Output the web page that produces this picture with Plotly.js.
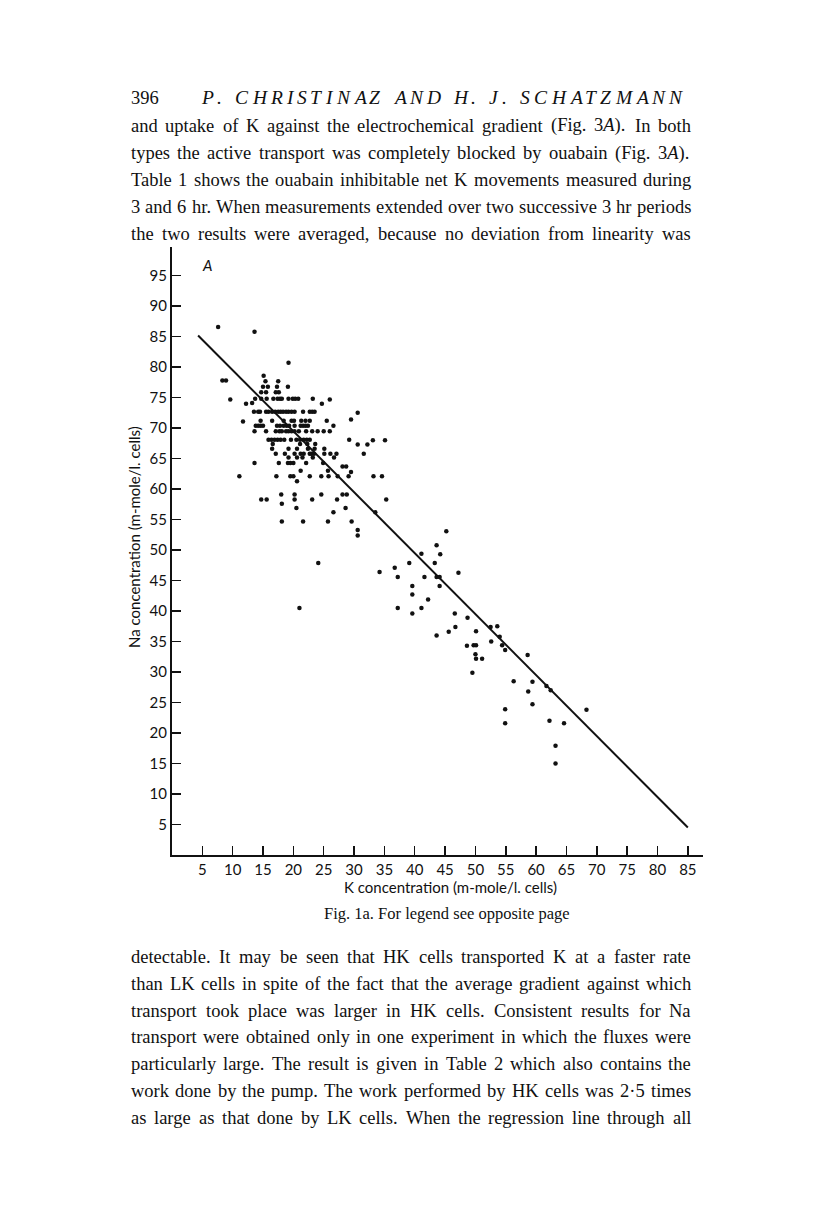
<!DOCTYPE html>
<html><head><meta charset="utf-8">
<script src="https://cdn.plot.ly/plotly-3.0.1.min.js"></script>
<style>body{margin:0;background:#fff}</style>
</head><body><div id="chart" style="width:816px;height:1221px"></div>
<script>
// ---- data ----
const kUpper = [
 7.6, 13.6, 19.2, 8.3, 8.9, 9.6, 11.7, 12.2, 15.1, 15.4, 17.5,
 15.0, 15.8, 17.3, 19.1,
 14.7, 15.5, 17.1, 17.6,
 13.2, 13.7, 14.7, 15.6, 16.7, 17.4, 17.8, 18.1, 19.2, 19.9, 20.3, 20.8, 23.2, 24.7, 26.0,
 30.6, 29.5,
 13.5, 14.2, 14.5, 15.5, 15.9, 16.5, 17.0, 17.5, 17.9, 18.3, 18.8, 19.2, 19.7, 20.2, 21.6, 22.7, 23.1, 23.5,
 14.6, 16.5, 18.4, 19.7, 20.1, 21.3, 22.0, 22.7, 25.5,
 13.8, 14.2, 14.6, 15.0, 17.3, 17.8, 18.4, 18.9, 19.3, 20.2, 21.2, 21.6, 22.0, 22.4, 26.6,
 13.6, 15.5, 17.1, 17.7, 18.1, 18.8, 19.2, 19.7, 20.2, 20.9, 22.1, 23.1, 24.0, 25.0, 26.0,
 15.9, 16.4, 16.9, 17.4, 17.9, 18.5, 19.6, 20.5, 21.1, 21.7, 22.2, 22.7, 29.2, 33.1, 35.1,
 16.6, 21.1, 22.3, 23.6, 30.6, 32.2,
 16.5, 19.2, 20.6, 22.4, 23.5, 25.1,
 17.1, 18.6, 20.2, 21.2, 21.7, 22.7, 23.0, 23.4, 25.1, 26.1, 27.1, 31.6,
 19.2, 20.6, 21.5, 23.2, 26.7,
 13.6, 17.6, 19.1, 19.5, 20.0, 22.1, 24.9,
 28.1, 28.7, 21.2, 25.7, 29.5,
 11.1, 17.2, 19.5, 20.0, 22.7, 24.6, 25.8, 27.3, 29.1, 33.2, 34.6,
 20.6,
 18.0, 20.2, 24.6, 28.1, 28.8,
 14.7, 15.6, 20.2, 23.1, 27.2, 35.3,
 18.1, 20.5, 28.6, 26.6, 33.5,
 18.1, 21.6, 25.7, 29.6,
 30.6, 30.6, 24.1, 21.0
];
const naUpper = [
 86.6, 85.8, 80.7, 77.8, 77.8, 74.7, 71.1, 74.0, 78.6, 77.7, 77.7,
 76.8, 76.8, 76.8, 76.8,
 75.9, 75.9, 75.9, 75.9,
 74.1, 74.8, 74.8, 74.8, 74.8, 74.8, 74.8, 74.8, 74.8, 74.8, 74.8, 74.8, 74.8, 74.0, 74.7,
 72.5, 71.4,
 72.7, 72.7, 72.7, 72.7, 72.7, 72.7, 72.7, 72.7, 72.7, 72.7, 72.7, 72.7, 72.7, 72.7, 72.7, 72.7, 72.7, 72.7,
 71.2, 71.2, 71.2, 71.2, 71.2, 71.2, 71.2, 71.2, 71.2,
 70.4, 70.4, 70.4, 70.4, 70.4, 70.4, 70.4, 70.4, 70.4, 70.4, 70.4, 70.4, 70.4, 70.4, 70.4,
 69.5, 69.5, 69.5, 69.5, 69.5, 69.5, 69.5, 69.5, 69.5, 69.5, 69.5, 69.5, 69.5, 69.5, 69.5,
 68.1, 68.1, 68.1, 68.1, 68.1, 68.1, 68.1, 68.1, 68.1, 68.1, 68.1, 68.1, 68.1, 68.0, 68.0,
 67.4, 67.4, 67.4, 67.4, 67.3, 67.3,
 66.6, 66.6, 66.6, 66.6, 66.6, 66.6,
 65.8, 65.8, 65.8, 65.8, 65.8, 65.8, 65.8, 65.8, 65.8, 65.8, 65.8, 65.8,
 65.2, 65.2, 65.2, 65.2, 65.2,
 64.3, 64.3, 64.3, 64.3, 64.3, 64.3, 64.3,
 63.7, 63.7, 63.0, 63.0, 62.8,
 62.1, 62.1, 62.1, 62.1, 62.1, 62.1, 62.1, 62.1, 62.1, 62.1, 62.1,
 61.3,
 59.1, 59.1, 59.1, 59.1, 59.1,
 58.3, 58.3, 58.3, 58.3, 58.3, 58.3,
 57.6, 56.9, 56.9, 56.2, 56.2,
 54.7, 54.7, 54.7, 54.7,
 53.3, 52.4, 47.9, 40.5
];
const kLower = [45.2,43.6,41.1,44.2,39.1,43.3,36.7,34.2,47.2,37.2,41.6,43.6,44.1,39.6,44.1,39.6,42.2,37.2,41.1,39.6,46.6,48.7,43.6,46.7,45.6,50.1,52.5,53.6,54.0,52.6,48.6,49.7,50.1,54.4,54.9,50.0,50.1,51.1,49.5,58.6,56.3,59.4,61.7,62.4,58.7,59.4,68.3,54.9,54.9,62.2,64.6,63.2,63.2];
const naLower = [53.1,50.8,49.4,49.3,47.9,47.9,47.1,46.4,46.3,45.6,45.6,45.6,45.6,44.1,44.1,42.7,41.9,40.5,40.5,39.6,39.6,38.9,36.0,37.4,36.6,36.7,37.4,37.5,35.8,35.0,34.3,34.4,34.4,34.4,33.6,32.9,32.2,32.2,29.9,32.8,28.5,28.4,27.7,27.0,26.8,24.7,23.8,23.9,21.6,22.0,21.6,17.9,15.0];
const lineK = [4.3, 85.0];
const lineNa = [85.2, 4.5];
const xTicks = [5,10,15,20,25,30,35,40,45,50,55,60,65,70,75,80,85];
const yTicks = [5,10,15,20,25,30,35,40,45,50,55,60,65,70,75,80,85,90,95];

const xTitle = "K concentration (m-mole/l. cells)";
const yTitle = "Na concentration (m-mole/l. cells)";
const panelLabel = "A";
const caption = "Fig. 1a. For legend see opposite page";
const pageNumber = "396";
const runningHead = "P. CHRISTINAZ AND H. J. SCHATZMANN";
const topLines = [
 "and uptake of K against the electrochemical gradient (Fig. 3<i>A</i>). In both",
 "types the active transport was completely blocked by ouabain (Fig. 3<i>A</i>).",
 "Table 1 shows the ouabain inhibitable net K movements measured during",
 "3 and 6 hr. When measurements extended over two successive 3 hr periods",
 "the two results were averaged, because no deviation from linearity was"
];
const bottomLines = [
 "detectable. It may be seen that HK cells transported K at a faster rate",
 "than LK cells in spite of the fact that the average gradient against which",
 "transport took place was larger in HK cells. Consistent results for Na",
 "transport were obtained only in one experiment in which the fluxes were",
 "particularly large. The result is given in Table 2 which also contains the",
 "work done by the pump. The work performed by HK cells was 2·5 times",
 "as large as that done by LK cells. When the regression line through all"
];

// ---- layout helpers ----
const M = {l:172, r:113, t:247, b:366};
const W = 816, H = 1221;
const PW = W - M.l - M.r, PH = H - M.t - M.b;
const px2x = px => (px - M.l) / PW;
const py2y = py => (H - M.b - py) / PH;
const INK = '#111';
const serif = 'Liberation Serif, Times New Roman, serif';
const sans = 'Lato, Open Sans, sans-serif';
const cnv = document.createElement('canvas').getContext('2d');
function measure(html, size, italic) {
  cnv.font = (italic ? 'italic ' : '') + size + 'px "Liberation Serif"';
  return cnv.measureText(html.replace(/<[^>]+>/g, '')).width;
}
const annotations = [];
function addText(html, px, py, size, opts) {
  annotations.push(Object.assign({
    text: html, xref: 'paper', yref: 'paper', x: px2x(px), y: py2y(py),
    xanchor: 'left', yanchor: 'middle', showarrow: false, borderpad: 0,
    font: {family: serif, size: size, color: INK}
  }, opts || {}));
}
function justify(tokens, x0, x1, py, size, italic) {
  const widths = tokens.map(t => measure(t, size, italic));
  const total = widths.reduce((a, b) => a + b, 0);
  const gap = tokens.length > 1 ? (x1 - x0 - total) / (tokens.length - 1) : 0;
  let x = x0;
  tokens.forEach((t, i) => {
    const txt = italic ? '<i>' + t + '</i>' : t;
    if (t.trim() !== '') addText(txt, x, py, size);
    x += widths[i] + gap;
  });
}
const bodySize = 18.5;
const X0 = 130, X1 = 690;
// running head
addText(pageNumber, X0, 98, bodySize);
justify(runningHead.split(''), 200, 680, 98, 19.5, true);
// paragraphs
const topY = [126, 153, 180, 207, 234];
topLines.forEach((ln, i) => justify(ln.split(' '), X0, X1, topY[i], bodySize, false));
const botY = [957, 984, 1011, 1037, 1064, 1091, 1118];
bottomLines.forEach((ln, i) => justify(ln.split(' '), X0, X1, botY[i], bodySize, false));
// caption
addText(caption, 447, 913, 16.5, {xanchor: 'center', font: {family: serif, size: 16.5, color: INK}});
// axis titles & panel label
addText(xTitle, 450, 887, 15, {xanchor: 'center', font: {family: sans, size: 15, color: INK}});
addText(yTitle, 134, 537, 15, {xanchor: 'center', textangle: -90, font: {family: sans, size: 15, color: INK}});
addText('<i>' + panelLabel + '</i>', 201, 265, 15, {font: {family: sans, size: 15, color: INK}});

const axisCommon = {
  showline: true, linecolor: INK, linewidth: 2, ticks: 'inside', ticklen: 9,
  tickwidth: 1.5, tickcolor: INK, showgrid: false, zeroline: false,
  tickfont: {family: sans, size: 15, color: INK}, fixedrange: true
};
const layout = {
  width: W, height: H, margin: M, showlegend: false,
  paper_bgcolor: '#fff', plot_bgcolor: '#fff',
  xaxis: Object.assign({range: [0, 87.5], tickvals: xTicks, ticktext: xTicks.map(String)}, axisCommon),
  yaxis: Object.assign({range: [0, 99.7], tickvals: yTicks, ticktext: yTicks.map(String)}, axisCommon),
  annotations: annotations
};
const traces = [
  {x: lineK, y: lineNa, mode: 'lines', line: {color: INK, width: 2}, hoverinfo: 'skip'},
  {x: kUpper.concat(kLower), y: naUpper.concat(naLower), mode: 'markers',
   marker: {size: 4.5, color: INK}}
];
Plotly.newPlot('chart', traces, layout, {displayModeBar: false, staticPlot: true});
</script>
</body></html>
